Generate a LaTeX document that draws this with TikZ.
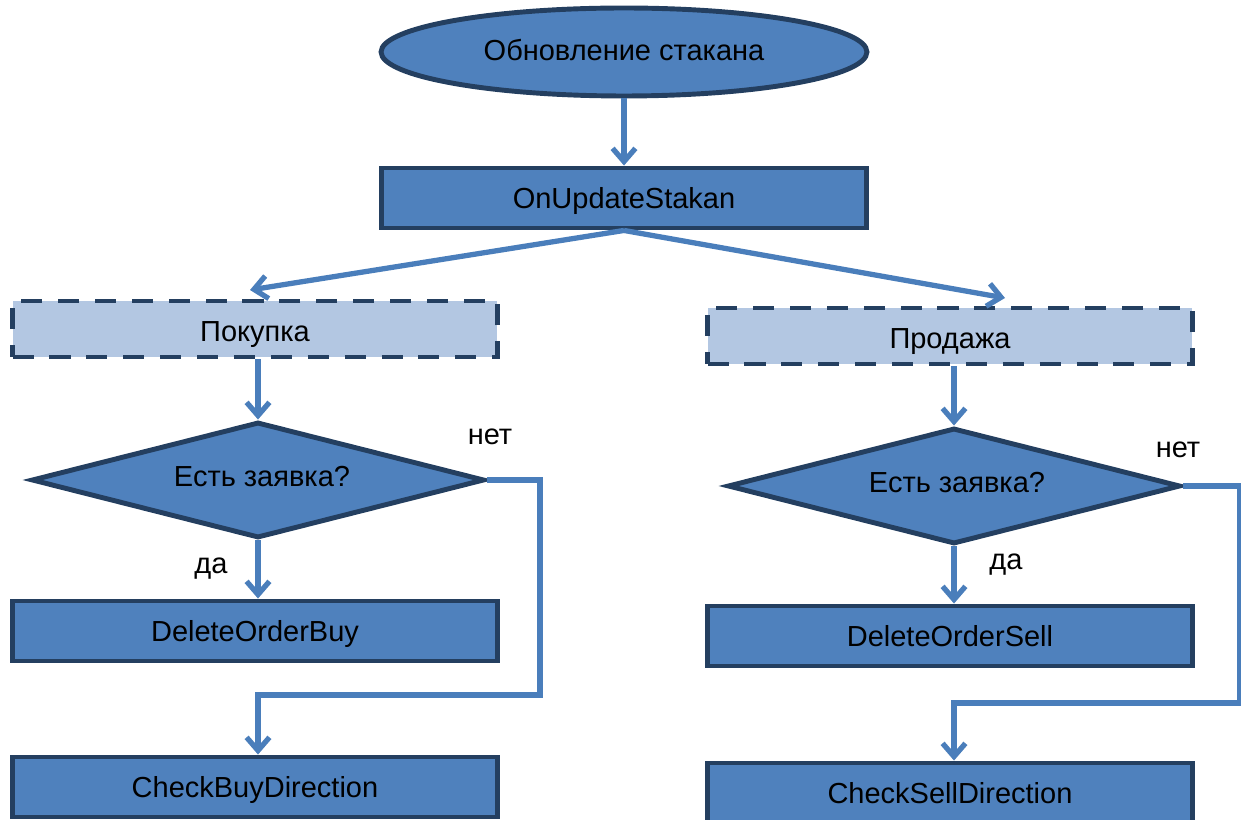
\documentclass[tikz,border=0pt]{standalone}
\usepackage{fontspec}
\setmainfont{Liberation Sans}
\usetikzlibrary{shapes.geometric,arrows.meta}
\definecolor{fillblue}{HTML}{4F81BD}
\definecolor{darkb}{HTML}{243F60}
\definecolor{lightb}{HTML}{B3C7E2}
\definecolor{arrowc}{HTML}{4A7EBB}
\tikzset{
  x=0.02cm, y=-0.02cm,
  every node/.style={font=\fontsize{16.5}{19}\selectfont, inner sep=0pt},
  procbox/.style={draw=darkb, fill=fillblue, line width=2.8pt, rectangle, minimum width=9.7cm, minimum height=1.2cm, text height=12.5pt, text depth=0pt},
  dashbox/.style={draw=darkb, fill=lightb, line width=2.8pt, dash pattern=on 12pt off 9pt, rectangle, minimum width=9.7cm, minimum height=1.12cm, text height=14pt, text depth=0pt},
  startshape/.style={draw=darkb, fill=fillblue, line width=2.8pt, ellipse, minimum width=9.72cm, minimum height=1.76cm, text height=9.6pt, text depth=0pt},
  decision/.style={draw=darkb, fill=fillblue, line width=2.8pt, diamond, minimum width=9.06cm, minimum height=2.32cm},
  conn/.style={draw=arrowc, line width=3pt, -{Straight Barb[length=7.5pt,width=13pt]}},
  lbl/.style={font=\fontsize{16.5}{19}\selectfont}
}
\begin{document}
\begin{tikzpicture}
\useasboundingbox (0,0) rectangle (1241,820);
\node[startshape] (start) at (624,52) {Обновление стакана};
\node[procbox] (os) at (624,198) {OnUpdateStakan};
\node[dashbox] (buy) at (255,329) {Покупка};
\node[dashbox] (sell) at (950,336) {Продажа};
\node[decision] (dl) at (258,480) {};
\node[lbl] at (262,477) {Есть заявка?};
\node[decision] (dr) at (954,486) {};
\node[lbl] at (957,483) {Есть заявка?};
\node[procbox] (dob) at (255,631) {DeleteOrderBuy};
\node[procbox] (cbd) at (255,787) {CheckBuyDirection};
\node[procbox] (dos) at (950,636) {DeleteOrderSell};
\node[procbox] (csd) at (950,793) {CheckSellDirection};

\node[lbl] at (490,437) {нет};
\node[lbl] at (1178,450) {нет};
\node[lbl] at (211,569) {да};
\node[lbl] at (1006,565) {да};

\coordinate (la) at (250,290);
\coordinate (ra) at (1005,298);
\coordinate (lc) at (540,695);
\coordinate (rc) at (1240,703);

\draw[conn] (start) -- (os);
\draw[conn] (os.south) -- (la);
\draw[conn] (os.south) -- (ra);
\draw[conn] (buy.south -| dl.north) -- (dl.north);
\draw[conn] (sell.south -| dr.north) -- (dr.north);
\draw[conn] (dl.south) -- (dl.south |- dob.north);
\draw[conn] (dr.south) -- (dr.south |- dos.north);
\draw[conn] (dl.east) -| (lc) -| (cbd.north -| dl.south);
\draw[conn] (dr.east) -| (rc) -| (csd.north -| dr.south);
\end{tikzpicture}
\end{document}
